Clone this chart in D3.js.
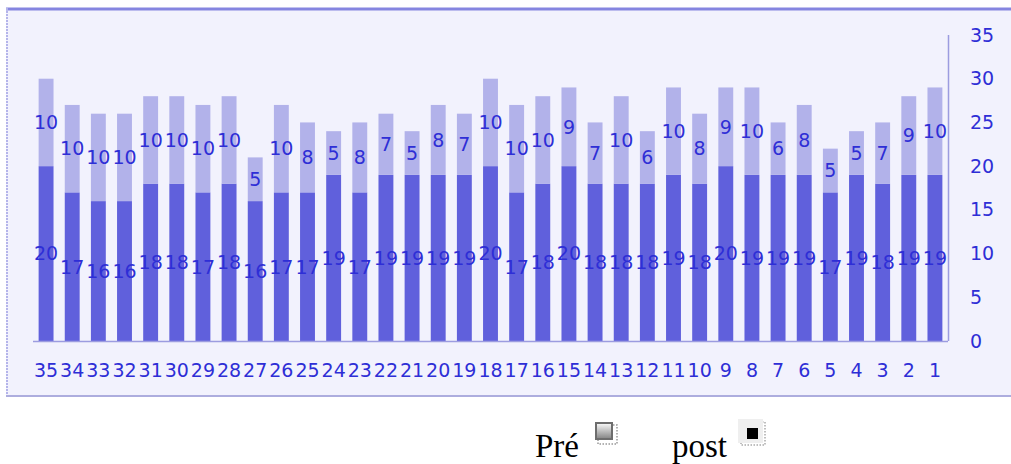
<!DOCTYPE html>
<html>
<head>
<meta charset="utf-8">
<script src="https://cdn.jsdelivr.net/npm/d3@7"></script>
<style>
html,body{margin:0;padding:0;background:#fff;}
svg{display:block;}
</style>
</head>
<body>
<script>
const categories = ["35","34","33","32","31","30","29","28","27","26","25","24","23","22","21","20","19","18","17","16","15","14","13","12","11","10","9","8","7","6","5","4","3","2","1"];
const preValues  = [20,17,16,16,18,18,17,18,16,17,17,19,17,19,19,19,19,20,17,18,20,18,18,18,19,18,20,19,19,19,17,19,18,19,19];
const postValues = [10,10,10,10,10,10,10,10,5,10,8,5,8,7,5,8,7,10,10,10,9,7,10,6,10,8,9,10,6,8,5,5,7,9,10];
const yTicks = [0,5,10,15,20,25,30,35];
const legendLabels = ["Pré","post"];

const W = 1011, H = 464;
const svg = d3.select("body").append("svg").attr("width", W).attr("height", H);

// frame
svg.append("rect").attr("x",6).attr("y",8).attr("width",W).attr("height",389).attr("fill","#f2f2fd");
svg.append("line").attr("x1",6).attr("x2",W).attr("y1",9).attr("y2",9).attr("stroke","#8585e0").attr("stroke-width",3);
svg.append("line").attr("x1",7).attr("x2",7).attr("y1",8).attr("y2",397).attr("stroke","#b4b4ea").attr("stroke-width",2).attr("stroke-dasharray","2,1");
svg.append("line").attr("x1",6).attr("x2",W).attr("y1",396).attr("y2",396).attr("stroke","#adadde").attr("stroke-width",2);

const x = d3.scaleBand().domain(categories).range([33,948]).paddingInner(0.43).paddingOuter(0.215);
const y = d3.scaleLinear().domain([0,35]).range([341,35]);

const data = categories.map((c,i)=>({c, pre:preValues[i], post:postValues[i]}));
const txt = "#2e2ed6";
const font = "DejaVu Sans, Verdana, sans-serif";
const fs = 19;

// bars
svg.append("g").selectAll("rect").data(data).join("rect")
  .attr("x", d=>x(d.c)).attr("width", x.bandwidth())
  .attr("y", d=>y(d.pre)).attr("height", d=>y(0)-y(d.pre))
  .attr("fill","#6060dc");
svg.append("g").selectAll("rect").data(data).join("rect")
  .attr("x", d=>x(d.c)).attr("width", x.bandwidth())
  .attr("y", d=>y(d.pre+d.post)).attr("height", d=>y(d.pre)-y(d.pre+d.post))
  .attr("fill","#b2b2ea");

// axes lines
svg.append("line").attr("x1",33).attr("x2",948).attr("y1",y(0)+0.5).attr("y2",y(0)+0.5).attr("stroke","#9c9ce0").attr("stroke-width",1.5);
svg.append("line").attr("x1",948.5).attr("x2",948.5).attr("y1",y(35)).attr("y2",y(0)).attr("stroke","#9c9ce0").attr("stroke-width",1.5);

// y tick labels (right)
const yAxis = d3.axisRight(y).tickValues(yTicks).tickSize(0).tickPadding(0);
const ga = svg.append("g").attr("transform","translate(970,0)").call(yAxis);
ga.select(".domain").remove();
ga.selectAll("text").attr("fill",txt).attr("font-family",font).attr("font-size",fs).attr("text-anchor","start").attr("x",0);

// x tick labels
const xAxis = d3.axisBottom(x).tickSize(0).tickPadding(0);
const gx = svg.append("g").attr("transform","translate(0,363)").call(xAxis);
gx.select(".domain").remove();
gx.selectAll("text").attr("fill",txt).attr("font-family",font).attr("font-size",fs).attr("dy","0.71em");

// data labels
const lbl = svg.append("g").attr("font-family",font).attr("font-size",fs).attr("fill",txt).attr("text-anchor","middle");
lbl.selectAll("text.pre").data(data).join("text").attr("class","pre")
  .attr("x", d=>x(d.c)+x.bandwidth()/2).attr("y", d=>y(d.pre/2)).attr("dy","0.36em").text(d=>d.pre);
lbl.selectAll("text.post").data(data).join("text").attr("class","post")
  .attr("x", d=>x(d.c)+x.bandwidth()/2).attr("y", d=>y(d.pre+d.post/2)).attr("dy","0.36em").text(d=>d.post);

// legend
const defs = svg.append("defs");
const gr = defs.append("linearGradient").attr("id","lg1").attr("x1",0).attr("y1",0).attr("x2",0).attr("y2",1);
gr.append("stop").attr("offset","0%").attr("stop-color","#f4f4f4");
gr.append("stop").attr("offset","100%").attr("stop-color","#8a8a8a");
const leg = svg.append("g").attr("font-family","Liberation Serif, Times New Roman, serif").attr("font-size",33).attr("fill","#000");
leg.append("text").attr("x",535).attr("y",457).text(legendLabels[0]);
leg.append("text").attr("x",672).attr("y",457).text(legendLabels[1]);
// Pré icon
svg.append("rect").attr("x",598).attr("y",425).attr("width",19).attr("height",19).attr("fill","none").attr("stroke","#999").attr("stroke-width",1.5).attr("stroke-dasharray","1.5,1.5");
svg.append("rect").attr("x",595).attr("y",422).attr("width",18).attr("height",18).attr("fill","#6d6d6d");
svg.append("rect").attr("x",597).attr("y",424).attr("width",14).attr("height",14).attr("fill","url(#lg1)");
// post icon
svg.append("rect").attr("x",741).attr("y",422).attr("width",24).attr("height",23).attr("fill","none").attr("stroke","#aaa").attr("stroke-width",1.5).attr("stroke-dasharray","1.5,1.5");
svg.append("rect").attr("x",738).attr("y",419).attr("width",25).attr("height",24).attr("fill","#efefef");
svg.append("rect").attr("x",747).attr("y",428).attr("width",11).attr("height",11).attr("fill","#000");
</script>
</body>
</html>
